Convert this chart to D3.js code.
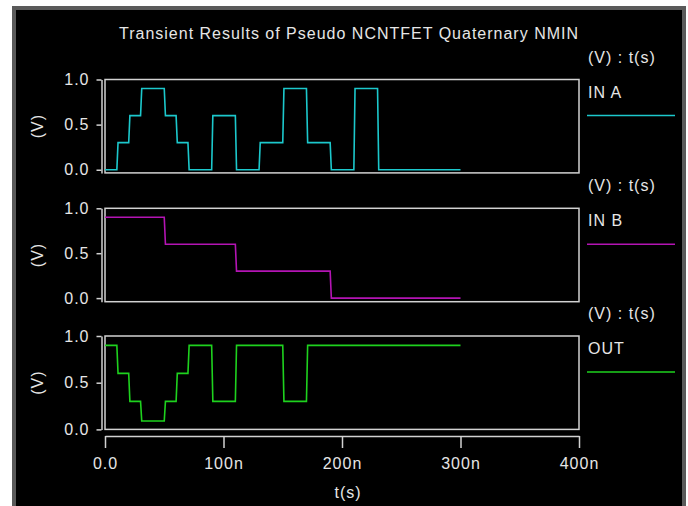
<!DOCTYPE html>
<html>
<head>
<meta charset="utf-8">
<script src="https://cdn.jsdelivr.net/npm/d3@7"></script>
<style>
body { margin: 0; background: #ffffff; }
text { font-family: "Liberation Sans", Arial, sans-serif; fill: #e6e6e6; letter-spacing: 1px; }
</style>
</head>
<body>
<svg id="svg"></svg>
<script>
var width = 688, height = 506;

// breakpoints in ns, level in V held until next breakpoint
var inATimes = [0, 10, 20, 30, 50, 60, 70, 90, 110, 130, 150, 170, 190, 210, 230, 300];
var inAValues = [0, 0.3, 0.6, 0.9, 0.6, 0.3, 0, 0.6, 0, 0.3, 0.9, 0.3, 0, 0.9, 0, 0];
var inBTimes = [0, 50, 110, 190, 300];
var inBValues = [0.9, 0.6, 0.3, 0, 0];
var outTimes = [0, 10, 20, 30, 50, 60, 70, 90, 110, 150, 170, 300];
var outValues = [0.9, 0.6, 0.3, 0.09, 0.3, 0.6, 0.9, 0.3, 0.9, 0.3, 0.9, 0.9];

var names = ["IN A", "IN B", "OUT"];
var colors = ["#1cc8cc", "#b414b4", "#1ed21e"];
var xTicks = [0, 100, 200, 300, 400];
var xTickLabels = ["0.0", "100n", "200n", "300n", "400n"];
var yTicks = [0, 0.5, 1.0];

var svg = d3.select("#svg")
	.attr("width", width)
	.attr("height", height);

svg.append("rect")
	.attr("x", 14).attr("y", 8)
	.attr("width", 670).attr("height", 520)
	.style("fill", "#000")
	.style("stroke", "#5a5a5a")
	.style("stroke-width", 4);

svg.append("text")
	.attr("x", 349)
	.attr("y", 39)
	.style("text-anchor", "middle")
	.style("font-size", "16px")
	.text("Transient Results of Pseudo NCNTFET Quaternary NMIN");

var x = d3.scaleLinear().domain([0, 400]).range([105, 579]);

var panels = [
	{ times: inATimes, values: inAValues, top: 79.5, dom: [-0.035, 1.0] },
	{ times: inBTimes, values: inBValues, top: 208.3, dom: [-0.04, 1.0] },
	{ times: outTimes, values: outValues, top: 336, dom: [0, 1.0] }
];
var boxH = 93.4;
var edge = 1; // ns rise/fall

panels.forEach(function(p, i)
{
	var y = d3.scaleLinear().domain(p.dom).range([p.top + boxH, p.top]);
	var g = svg.append("g");

	g.append("rect")
		.attr("x", x(0)).attr("y", p.top)
		.attr("width", x(400) - x(0)).attr("height", boxH)
		.style("fill", "none")
		.style("stroke", "#d2d2d2")
		.style("stroke-width", 1.5);

	var yAxis = d3.axisLeft(y)
		.tickValues(yTicks)
		.tickFormat(d3.format(".1f"))
		.tickSize(5)
		.tickSizeOuter(0)
		.tickPadding(7);
	var ya = g.append("g")
		.attr("transform", "translate(101.5,0)")
		.call(yAxis);
	ya.selectAll("path, line").style("stroke", "#d2d2d2").style("stroke-width", 1.5);
	ya.selectAll("text").style("font-size", "16px").style("fill", "#e6e6e6").style("font-family", "Liberation Sans, Arial, sans-serif");

	g.append("text")
		.attr("transform", "translate(43," + (p.top + boxH / 2) + ") rotate(-90)")
		.style("text-anchor", "middle")
		.style("font-size", "16px")
		.text("(V)");

	var pts = [[p.times[0], p.values[0]]];
	for (var k = 1; k < p.times.length; k++) {
		if (p.values[k] !== p.values[k - 1]) {
			pts.push([p.times[k], p.values[k - 1]]);
			pts.push([p.times[k] + edge, p.values[k]]);
		} else {
			pts.push([p.times[k], p.values[k]]);
		}
	}
	var line = d3.line()
		.x(function(d) { return x(d[0]); })
		.y(function(d) { return y(d[1]); });
	g.append("path")
		.datum(pts)
		.attr("d", line)
		.style("fill", "none")
		.style("stroke", colors[i])
		.style("stroke-width", 1.6);

	// legend
	g.append("text")
		.attr("x", 588).attr("y", p.top - 17)
		.style("font-size", "16px")
		.text("(V) : t(s)");
	g.append("text")
		.attr("x", 588).attr("y", p.top + 18)
		.style("font-size", "16px")
		.text(names[i]);
	g.append("line")
		.attr("x1", 587).attr("x2", 675)
		.attr("y1", p.top + 36).attr("y2", p.top + 36)
		.style("stroke", colors[i])
		.style("stroke-width", 1.6);
});

var xAxis = d3.axisBottom(x)
	.tickValues(xTicks)
	.tickFormat(function(d, i) { return xTickLabels[i]; })
	.tickSize(12)
	.tickSizeOuter(0)
	.tickPadding(10);
var xa = svg.append("g")
	.attr("transform", "translate(0,436)")
	.call(xAxis);
xa.selectAll("path, line").style("stroke", "#d2d2d2").style("stroke-width", 1.5);
xa.selectAll("text").style("font-size", "16px").style("fill", "#e6e6e6").style("font-family", "Liberation Sans, Arial, sans-serif");

svg.append("text")
	.attr("x", 348)
	.attr("y", 498)
	.style("text-anchor", "middle")
	.style("font-size", "16px")
	.text("t(s)");
</script>
</body>
</html>
